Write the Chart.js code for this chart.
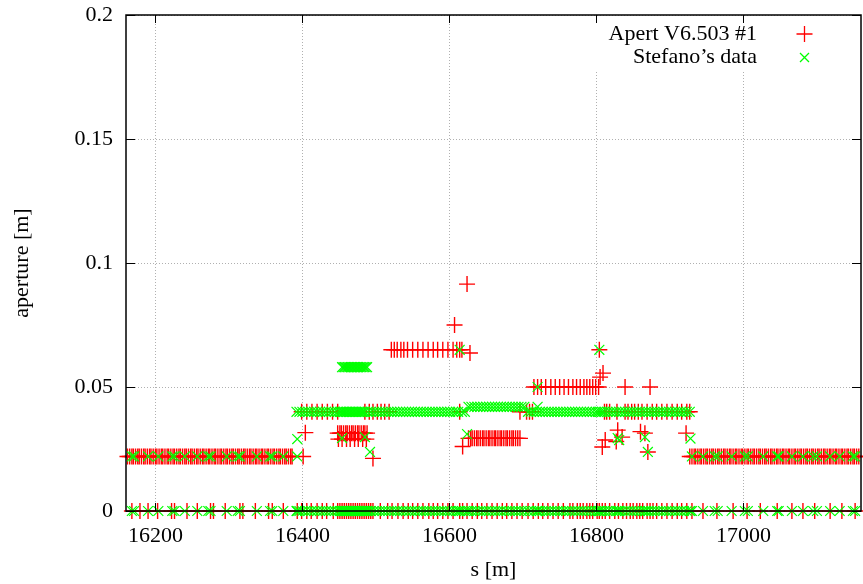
<!DOCTYPE html>
<html>
<head>
<meta charset="utf-8">
<title>aperture vs s</title>
<script src="https://cdn.jsdelivr.net/npm/chart.js@4/dist/chart.umd.min.js"></script>
<style>
  html, body { margin: 0; padding: 0; background: #fff; }
</style>
</head>
<body>
<canvas id="apertureChart" width="863" height="584"></canvas>
<script>
// axis ticks
const sTicks = [16200, 16400, 16600, 16800, 17000];
const sTickLabels = ['16200', '16400', '16600', '16800', '17000'];
const apertureTicks = [0, 0.05, 0.1, 0.15, 0.2];
const apertureTickLabels = ['0', '0.05', '0.1', '0.15', '0.2'];

// Apert V6.503 #1 : s [m] of the points sitting on each aperture level
const apertLevel022Left = [16162, 16165, 16168, 16170, 16173, 16176, 16178, 16181, 16184, 16186, 16189, 16192, 16194, 16197, 16200, 16202, 16205, 16208, 16210, 16213, 16216, 16218, 16221, 16224, 16226, 16229, 16232, 16234, 16237, 16240, 16242, 16245, 16248, 16250, 16253, 16256, 16258, 16261, 16264, 16266, 16269, 16272, 16274, 16277, 16280, 16282, 16285, 16288, 16290, 16293, 16296, 16298, 16301, 16304, 16306, 16309, 16312, 16314, 16317, 16320, 16322, 16325, 16328, 16330, 16333, 16336, 16338, 16341, 16344, 16346, 16349, 16352, 16354, 16357, 16360, 16362, 16365, 16368, 16370, 16373, 16376, 16378, 16381, 16384, 16386, 16401];
const apertLevel022Right = [16927, 16930, 16933, 16935, 16938, 16941, 16943, 16946, 16949, 16951, 16954, 16957, 16959, 16962, 16965, 16967, 16970, 16973, 16975, 16978, 16981, 16983, 16986, 16989, 16991, 16994, 16997, 16999, 17002, 17005, 17007, 17010, 17013, 17015, 17018, 17021, 17023, 17026, 17029, 17031, 17034, 17037, 17039, 17042, 17045, 17047, 17050, 17053, 17055, 17058, 17061, 17063, 17066, 17069, 17071, 17074, 17077, 17079, 17082, 17085, 17087, 17090, 17093, 17095, 17098, 17101, 17103, 17106, 17109, 17111, 17114, 17117, 17119, 17122, 17125, 17127, 17130, 17133, 17135, 17138, 17141, 17143, 17146, 17149, 17151, 17154, 17157];
const apertLevel040 = [16399, 16406, 16413, 16420, 16427, 16434, 16441, 16448, 16485, 16491, 16496, 16502, 16507, 16512, 16518, 16614, 16696, 16705, 16709, 16713, 16811, 16814, 16818, 16828, 16839, 16843, 16848, 16852, 16857, 16862, 16869, 16876, 16882, 16889, 16896, 16903, 16910, 16916, 16923, 16927];
const apertLevel065 = [16521, 16525, 16529, 16534, 16538, 16543, 16550, 16557, 16564, 16571, 16578, 16584, 16591, 16598, 16605, 16610, 16614, 16617, 16804];
const apertLevel050 = [16715, 16720, 16725, 16731, 16738, 16744, 16750, 16756, 16762, 16768, 16773, 16778, 16783, 16787, 16791, 16795, 16799, 16803, 16839, 16873];
const apertLevel031 = [16448, 16451, 16453, 16456, 16459, 16461, 16464, 16467, 16469, 16472, 16475, 16477, 16480, 16483, 16485, 16488];
const apertLevel029 = [16449, 16454, 16460, 16465, 16471, 16476, 16482, 16487];
const apertLevel0293 = [16626, 16629, 16631, 16634, 16637, 16639, 16642, 16645, 16647, 16650, 16653, 16655, 16658, 16661, 16663, 16666, 16669, 16671, 16674, 16677, 16679, 16682, 16685, 16687, 16690, 16693, 16696];
const apertZero = [16168, 16179, 16190, 16203, 16222, 16226, 16243, 16257, 16275, 16279, 16295, 16315, 16319, 16336, 16354, 16359, 16374, 16393, 16399, 16406, 16412, 16420, 16427, 16433, 16442, 16448, 16451, 16454, 16457, 16460, 16463, 16466, 16469, 16472, 16475, 16478, 16481, 16484, 16487, 16490, 16493, 16496, 16506, 16516, 16522, 16530, 16537, 16544, 16550, 16557, 16564, 16572, 16578, 16584, 16591, 16598, 16605, 16614, 16618, 16624, 16631, 16638, 16644, 16651, 16658, 16665, 16672, 16678, 16685, 16692, 16699, 16707, 16714, 16721, 16727, 16734, 16741, 16748, 16755, 16764, 16768, 16774, 16778, 16782, 16787, 16791, 16795, 16801, 16804, 16808, 16812, 16818, 16825, 16830, 16836, 16841, 16846, 16850, 16855, 16859, 16863, 16869, 16873, 16877, 16882, 16889, 16896, 16903, 16910, 16916, 16923, 16930, 16945, 16964, 16986, 17005, 17023, 17046, 17066, 17081, 17097, 17118, 17134, 17152];
// isolated Apert points (s, aperture)
const apertLoneS = [16404, 16496, 16607, 16624, 16628, 16618, 16805, 16809, 16808, 16812, 16827, 16829, 16835, 16860, 16866, 16870, 16922];
const apertLoneA = [0.0316, 0.0212, 0.075, 0.0915, 0.0637, 0.026, 0.054, 0.0556, 0.0258, 0.0286, 0.028, 0.0326, 0.0298, 0.032, 0.0314, 0.0238, 0.0314];

// Stefano's data
const stefanoLevel022Left = [16168, 16171, 16190, 16204, 16223, 16226, 16240, 16257, 16272, 16275, 16297, 16312, 16315, 16338, 16356, 16359, 16374, 16393];
const stefanoLevel022Right = [16930, 16945, 16961, 16965, 16984, 17002, 17006, 17027, 17046, 17048, 17066, 17081, 17095, 17100, 17118, 17131, 17149, 17152];
const stefanoLevel040 = [
  16392, 16396, 16400, 16404, 16408, 16412, 16416, 16420, 16424, 16428, 16432, 16436, 16440, 16444, 16448,
  16451, 16453, 16455, 16457, 16459, 16461, 16463, 16465, 16467, 16469, 16471, 16473, 16475, 16477, 16479, 16481, 16483, 16485,
  16489, 16493, 16497, 16501, 16505, 16509, 16513, 16517, 16521, 16525, 16529, 16533, 16537, 16541, 16545, 16549,
  16553, 16557, 16561, 16565, 16569, 16573, 16577, 16581, 16585, 16589, 16593, 16597, 16601, 16605, 16609,
  16612, 16617, 16621,
  16707, 16711, 16715, 16719, 16723, 16727, 16731, 16735, 16739, 16743, 16747, 16751, 16755, 16759, 16763, 16767,
  16771, 16775, 16779, 16783, 16787, 16791, 16795, 16799, 16802,
  16805, 16808, 16811, 16815, 16819, 16823, 16827, 16831, 16835, 16839, 16843, 16847, 16851, 16855, 16859, 16863,
  16867, 16871, 16875, 16879, 16883, 16887, 16891, 16895, 16899, 16903, 16907, 16911, 16915, 16919, 16923, 16927
];
const stefanoLevel042 = [16626, 16630, 16634, 16638, 16642, 16646, 16650, 16654, 16658, 16662, 16666, 16670, 16674, 16678, 16682, 16686, 16690, 16694, 16698, 16702];
const stefanoLevel058 = [16454, 16456, 16458, 16460, 16462, 16464, 16466, 16468, 16470, 16472, 16474, 16476, 16478, 16480, 16482, 16484, 16486, 16488];
const stefanoLoneS = [16393, 16454, 16485, 16492, 16614, 16624, 16720, 16720, 16804, 16829, 16831, 16866, 16870, 16928];
const stefanoLoneA = [0.029, 0.0294, 0.0298, 0.0238, 0.065, 0.031, 0.042, 0.05, 0.065, 0.0294, 0.0286, 0.0298, 0.0238, 0.0292];

// build {x, y} lists for the scatter datasets
function onLevel(groups) {
  return groups.flatMap(([a, list]) => list.map(s => ({ x: s, y: a })));
}

const apertPoints = onLevel([
  [0.022, apertLevel022Left], [0.022, apertLevel022Right], [0.04, apertLevel040],
  [0.065, apertLevel065], [0.05, apertLevel050], [0.0314, apertLevel031],
  [0.029, apertLevel029], [0.0293, apertLevel0293], [0, apertZero]
]).concat(apertLoneS.map((s, i) => ({ x: s, y: apertLoneA[i] })));

// each s in Stefano's file also carries a zero entry
const stefanoAllS = [].concat(stefanoLevel022Left, stefanoLevel022Right, stefanoLevel040,
  stefanoLevel042, stefanoLevel058, stefanoLoneS);
const stefanoPoints = onLevel([
  [0.022, stefanoLevel022Left], [0.022, stefanoLevel022Right], [0.04, stefanoLevel040],
  [0.042, stefanoLevel042], [0.058, stefanoLevel058], [0, stefanoAllS]
]).concat(stefanoLoneS.map((s, i) => ({ x: s, y: stefanoLoneA[i] })));

const FONT = '"Liberation Serif", "Times New Roman", serif';
Chart.defaults.font.family = FONT;
Chart.defaults.font.size = 22;
Chart.defaults.color = '#000';

// frame, inward tics and the key, drawn the gnuplot way
const framePlugin = {
  id: 'frame',
  beforeDatasetsDraw(chart) {
    const { ctx, chartArea: a } = chart;
    ctx.save();
    ctx.fillStyle = '#fff';
    ctx.fillRect(a.right - 270, a.top + 1, 262, 54);
    ctx.restore();
  },
  afterDatasetsDraw(chart) {
    const { ctx, chartArea: a, scales: { x, y } } = chart;
    ctx.save();
    ctx.strokeStyle = '#000';
    ctx.lineWidth = 1;
    ctx.beginPath();
    sTicks.forEach(v => {
      const px = Math.round(x.getPixelForValue(v)) + 0.5;
      ctx.moveTo(px, a.bottom); ctx.lineTo(px, a.bottom - 8);
      ctx.moveTo(px, a.top); ctx.lineTo(px, a.top + 8);
    });
    apertureTicks.forEach(v => {
      const py = Math.round(y.getPixelForValue(v)) + 0.5;
      ctx.moveTo(a.left, py); ctx.lineTo(a.left + 9, py);
      ctx.moveTo(a.right, py); ctx.lineTo(a.right - 9, py);
    });
    ctx.stroke();
    ctx.lineWidth = 1.5;
    ctx.strokeRect(a.left, a.top, a.right - a.left, a.bottom - a.top);

    // key
    const tx = a.right - 104, mx = a.right - 56.5;
    const rows = [a.top + 19, a.top + 42.5];
    ctx.font = '22px ' + FONT;
    ctx.fillStyle = '#000';
    ctx.textAlign = 'right';
    ctx.textBaseline = 'middle';
    chart.data.datasets.forEach((ds, i) => ctx.fillText(ds.label, tx, rows[i]));
    ctx.lineWidth = 1.3;
    ctx.strokeStyle = '#ff0000';
    ctx.beginPath();
    ctx.moveTo(mx - 8, rows[0]); ctx.lineTo(mx + 8, rows[0]);
    ctx.moveTo(mx, rows[0] - 8); ctx.lineTo(mx, rows[0] + 8);
    ctx.stroke();
    ctx.strokeStyle = '#00ff00';
    ctx.beginPath();
    ctx.moveTo(mx - 4.5, rows[1] - 4.5); ctx.lineTo(mx + 4.5, rows[1] + 4.5);
    ctx.moveTo(mx - 4.5, rows[1] + 4.5); ctx.lineTo(mx + 4.5, rows[1] - 4.5);
    ctx.stroke();
    ctx.restore();
  }
};

const chart = new Chart(document.getElementById('apertureChart'), {
  type: 'scatter',
  data: {
    datasets: [
      {
        label: 'Apert V6.503 #1',
        data: apertPoints,
        pointStyle: 'cross',
        pointRadius: 8,
        borderColor: '#ff0000',
        backgroundColor: '#ff0000',
        borderWidth: 1.4,
        order: 1,
        clip: false,
      },
      {
        label: 'Stefano\u2019s data',
        data: stefanoPoints,
        pointStyle: 'crossRot',
        pointRadius: 7,
        borderColor: '#00ff00',
        backgroundColor: '#00ff00',
        borderWidth: 1.2,
        order: 0,
        clip: false,
      },
    ],
  },
  options: {
    responsive: false,
    animation: false,
    devicePixelRatio: 1,
    events: [],
    layout: { autoPadding: false, padding: { top: 15, right: 2, left: 0, bottom: 0 } },
    plugins: { legend: { display: false }, tooltip: { enabled: false } },
    scales: {
      x: {
        type: 'linear',
        min: 16160,
        max: 17160,
        afterBuildTicks: s => { s.ticks = sTicks.map(v => ({ value: v })); },
        afterFit: s => { s.height = 73; s.paddingLeft = 0; s.paddingRight = 0; },
        grid: { color: '#b0b0b0', lineWidth: 1, drawTicks: false },
        border: { display: false, dash: [1, 2] },
        ticks: {
          padding: 12,
          autoSkip: false,
          maxRotation: 0,
          callback: (v, i) => sTickLabels[i],
        },
        title: { display: true, text: 's [m]', padding: { top: 0, bottom: 1 } },
      },
      y: {
        type: 'linear',
        min: 0,
        max: 0.2,
        afterBuildTicks: s => { s.ticks = apertureTicks.map(v => ({ value: v })); },
        afterFit: s => { s.width = 126; s.paddingTop = 0; s.paddingBottom = 0; },
        grid: { color: '#b0b0b0', lineWidth: 1, drawTicks: false },
        border: { display: false, dash: [1, 2] },
        ticks: {
          padding: 13,
          autoSkip: false,
          callback: (v, i) => apertureTickLabels[i],
        },
        title: { display: true, text: 'aperture [m]', padding: { top: 9, bottom: 0 } },
      },
    },
  },
  plugins: [framePlugin],
});
</script>
</body>
</html>
